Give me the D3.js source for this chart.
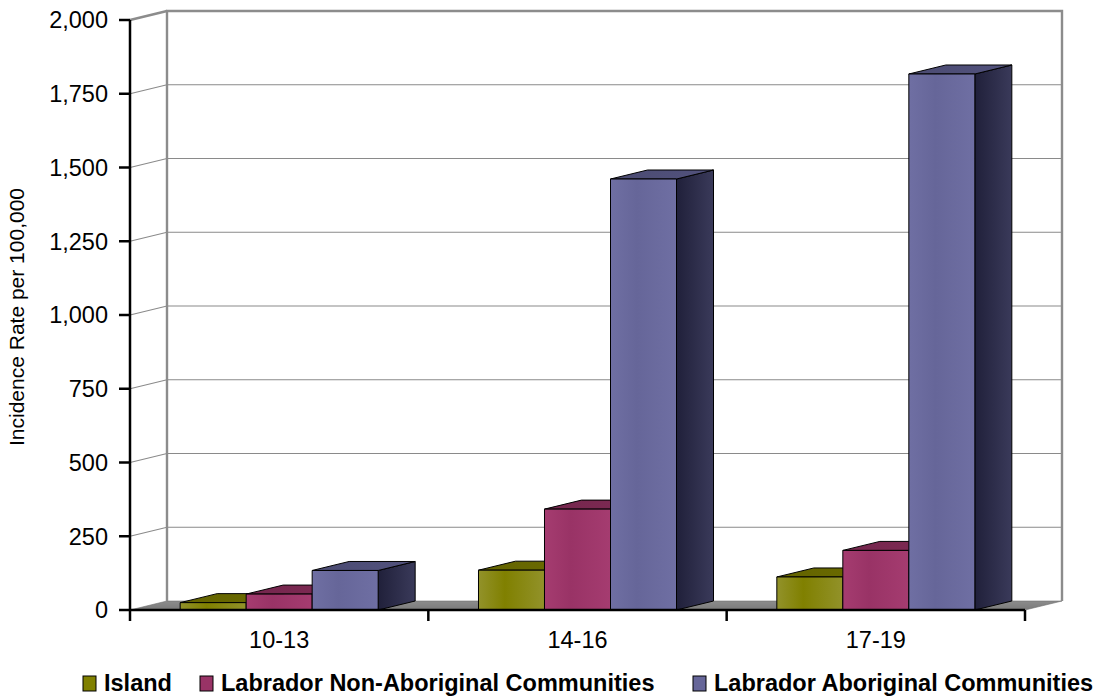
<!DOCTYPE html>
<html>
<head>
<meta charset="utf-8">
<script src="https://cdn.jsdelivr.net/npm/d3@7"></script>
<style>
  html, body { margin: 0; padding: 0; background: #fff; }
  svg { display: block; font-family: "Liberation Sans", Arial, sans-serif; }
</style>
</head>
<body>
<svg id="chart" width="1105" height="698"></svg>
<script>
// Incidence rate per 100,000 by age group and region
const categories = ["10-13", "14-16", "17-19"];
const seriesNames = ["Island", "Labrador Non-Aboriginal Communities", "Labrador Aboriginal Communities"];
const island = [25, 135, 112];
const labradorNonAboriginal = [54, 342, 202];
const labradorAboriginal = [134, 1461, 1817];
const yTicks = [0, 250, 500, 750, 1000, 1250, 1500, 1750, 2000];

const seriesValues = [island, labradorNonAboriginal, labradorAboriginal];

// face colours per series: front, top, side
const palette = [
  { front: "#808000", light: "#92922a", top: "#636300", side: ["#3f3f00", "#5c5c00"] },
  { front: "#993366", light: "#a53c70", top: "#74264d", side: ["#4a1830", "#6c2448"] },
  { front: "#666699", light: "#6f6fa3", top: "#4b4b72", side: ["#20203a", "#3a3a5a"] }
];

const svg = d3.select("#chart");
const defs = svg.append("defs");

// plot geometry
const plotLeft = 130, plotRight = 1025, plotBottom = 610, plotTop = 20;
const depthX = 37, depthY = -9;

const x = d3.scaleBand().domain(categories).range([plotLeft, plotRight]).padding(0);
const xInner = d3.scaleBand().domain(d3.range(seriesNames.length))
  .range([0, x.bandwidth()]).paddingInner(0).paddingOuter(0.76);
const y = d3.scaleLinear().domain([0, 2000]).range([plotBottom, plotTop]);

// gradients for front, top and side faces
palette.forEach((p, i) => {
  const gf = defs.append("linearGradient").attr("id", "front" + i)
    .attr("x1", 0).attr("x2", 1).attr("y1", 0).attr("y2", 0);
  gf.append("stop").attr("offset", "0%").attr("stop-color", p.light);
  gf.append("stop").attr("offset", "40%").attr("stop-color", p.front);
  gf.append("stop").attr("offset", "100%").attr("stop-color", p.light);
  const gs = defs.append("linearGradient").attr("id", "side" + i)
    .attr("x1", 0).attr("x2", 1).attr("y1", 0).attr("y2", 0);
  gs.append("stop").attr("offset", "0%").attr("stop-color", p.side[0]);
  gs.append("stop").attr("offset", "100%").attr("stop-color", p.side[1]);
  const gt = defs.append("linearGradient").attr("id", "top" + i)
    .attr("x1", 0).attr("x2", 1).attr("y1", 0).attr("y2", 0);
  gt.append("stop").attr("offset", "0%").attr("stop-color", p.top);
  gt.append("stop").attr("offset", "100%").attr("stop-color", d3.color(p.top).brighter(0.25));
});
const floorGrad = defs.append("linearGradient").attr("id", "floorGrad")
  .attr("x1", 0).attr("x2", 0).attr("y1", 0).attr("y2", 1);
floorGrad.append("stop").attr("offset", "0%").attr("stop-color", "#8c8c8c");
floorGrad.append("stop").attr("offset", "100%").attr("stop-color", "#7a7a7a");

const poly = pts => "M" + pts.map(p => p.join(",")).join("L") + "Z";

// floor
svg.append("path")
  .attr("d", poly([[plotLeft, plotBottom], [plotRight, plotBottom], [plotRight + depthX, plotBottom + depthY], [plotLeft + depthX, plotBottom + depthY]]))
  .attr("fill", "url(#floorGrad)")
  .attr("stroke", "#6e6e6e").attr("stroke-width", 0.6);

// gridlines: side wall slant plus back wall line
const grid = svg.append("g");
yTicks.filter(v => v > 0 && v < 2000).forEach(v => {
  grid.append("path")
    .attr("d", `M${plotLeft},${y(v)}L${plotLeft + depthX},${y(v) + depthY}L${plotRight + depthX},${y(v) + depthY}`)
    .attr("fill", "none").attr("stroke", "#8a8a8a").attr("stroke-width", 1.2);
});

// back wall frame
const wall = svg.append("g").attr("fill", "none").attr("stroke", "#8c8c8c").attr("stroke-width", 2.4);
wall.append("path")
  .attr("d", `M${plotLeft + depthX},${plotBottom + depthY}L${plotLeft + depthX},${y(2000) + depthY}L${plotRight + depthX},${y(2000) + depthY}L${plotRight + depthX},${plotBottom + depthY}`);
wall.append("path")
  .attr("d", `M${plotLeft},${y(2000)}L${plotLeft + depthX},${y(2000) + depthY}`);

// bars, drawn left to right so each neighbour hides the previous side face
const bars = svg.append("g");
categories.forEach((cat, ci) => {
  seriesValues.forEach((vals, si) => {
    const v = vals[ci];
    const x0 = x(cat) + xInner(si);
    const x1 = x0 + xInner.bandwidth();
    const y0 = y(0), y1 = y(v);
    const g = bars.append("g").attr("stroke", "#000").attr("stroke-width", 1).attr("stroke-linejoin", "round");
    g.append("path")
      .attr("d", poly([[x1, y0], [x1 + depthX, y0 + depthY], [x1 + depthX, y1 + depthY], [x1, y1]]))
      .attr("fill", `url(#side${si})`);
    g.append("path")
      .attr("d", poly([[x0, y1], [x1, y1], [x1 + depthX, y1 + depthY], [x0 + depthX, y1 + depthY]]))
      .attr("fill", `url(#top${si})`);
    g.append("rect")
      .attr("x", x0).attr("y", y1).attr("width", x1 - x0).attr("height", y0 - y1)
      .attr("fill", `url(#front${si})`);
  });
});

// y axis
const yAxis = svg.append("g");
yAxis.append("line").attr("x1", plotLeft).attr("x2", plotLeft).attr("y1", y(2000)).attr("y2", y(0))
  .attr("stroke", "#000").attr("stroke-width", 2.5);
yTicks.forEach(v => {
  yAxis.append("line").attr("x1", plotLeft - 11).attr("x2", plotLeft).attr("y1", y(v)).attr("y2", y(v))
    .attr("stroke", "#000").attr("stroke-width", 2.5);
  yAxis.append("text").attr("x", 108).attr("y", y(v)).attr("dy", "0.36em")
    .attr("text-anchor", "end").attr("font-size", 23.5).attr("fill", "#000")
    .text(d3.format(",")(v));
});

// x axis
const xAxis = svg.append("g");
xAxis.append("line").attr("x1", plotLeft).attr("x2", plotRight).attr("y1", plotBottom).attr("y2", plotBottom)
  .attr("stroke", "#000").attr("stroke-width", 2.5);
const tickXs = categories.map(c => x(c)).concat([plotRight]);
tickXs.forEach(tx => {
  xAxis.append("line").attr("x1", tx).attr("x2", tx).attr("y1", plotBottom).attr("y2", plotBottom + 11)
    .attr("stroke", "#000").attr("stroke-width", 2.5);
});
categories.forEach(c => {
  xAxis.append("text").attr("x", x(c) + x.bandwidth() / 2).attr("y", 648)
    .attr("text-anchor", "middle").attr("font-size", 23.5).attr("fill", "#000").text(c);
});

// y axis title
svg.append("text")
  .attr("transform", "translate(24,317) rotate(-90)")
  .attr("text-anchor", "middle").attr("font-size", 21).attr("fill", "#000")
  .text("Incidence Rate per 100,000");

// legend
const legendX = [83, 200, 693];
const legend = svg.append("g");
seriesNames.forEach((name, i) => {
  legend.append("rect").attr("x", legendX[i]).attr("y", 676).attr("width", 13).attr("height", 15)
    .attr("fill", palette[i].front).attr("stroke", "#000").attr("stroke-width", 1);
  legend.append("text").attr("x", legendX[i] + 21).attr("y", 691)
    .attr("font-size", 23.5).attr("font-weight", "bold").attr("fill", "#000").text(name);
});
</script>
</body>
</html>
